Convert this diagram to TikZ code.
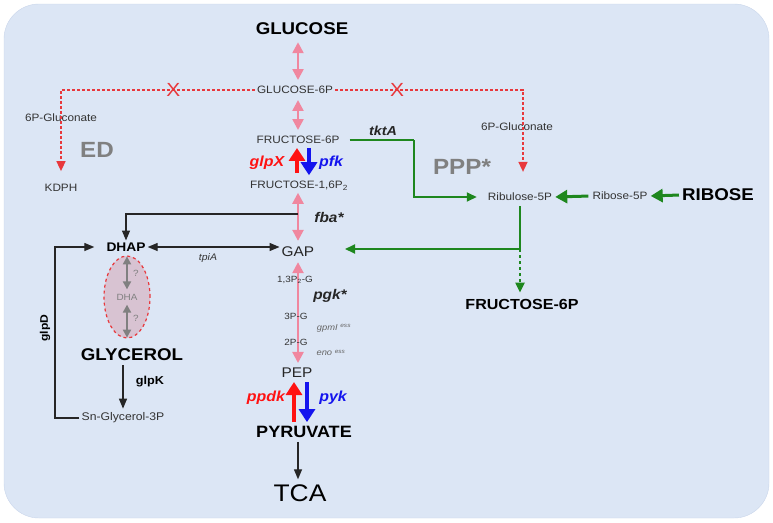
\documentclass[tikz,border=0pt]{standalone}
\usepackage{fontspec}
\setmainfont{Liberation Sans}[FakeStretch=1.1]
\usetikzlibrary{arrows.meta,shapes.geometric}

\definecolor{panel}{HTML}{DCE6F5}
\definecolor{panelrim}{HTML}{C9D5EA}
\definecolor{flux}{HTML}{F0879F}
\definecolor{blocked}{HTML}{E8383C}
\definecolor{gluconeo}{HTML}{FF1212}
\definecolor{glyco}{HTML}{1414EE}
\definecolor{pppgreen}{HTML}{1E871E}
\definecolor{label}{HTML}{333333}
\definecolor{faded}{HTML}{808080}
\definecolor{dhafill}{HTML}{D8C3D2}

\begin{document}
\begin{tikzpicture}[x=1pt,y=-1pt,
    met/.style={font=\fontsize{10.7}{12}\selectfont, text=label, inner sep=2pt},
    key/.style={font=\bfseries\fontsize{17}{20}\selectfont, inner sep=2pt},
    mid/.style={font=\fontsize{14}{16}\selectfont, text=black!85, inner sep=2pt},
    gene/.style={font=\bfseries\itshape\fontsize{14.5}{16}\selectfont, inner sep=1pt},
    small/.style={font=\fontsize{9}{10}\selectfont, text=label, inner sep=1pt},
    region/.style={font=\bfseries\fontsize{22}{24}\selectfont, text=faded},
    xmark/.style={font=\fontsize{19}{19}\selectfont, text=blocked, inner sep=0pt},
    twoway/.style={draw=flux, line width=2.4pt, {Triangle[width=11pt,length=11pt]}-{Triangle[width=11pt,length=11pt]}},
    cut/.style={draw=blocked, line width=1.6pt, dash pattern=on 3pt off 2pt, -{Triangle[width=9pt,length=10pt]}},
    fat/.style={line width=4pt, -{Triangle[width=16pt,length=13pt]}},
    pppline/.style={draw=pppgreen, line width=2pt, -{Triangle[width=9pt,length=10pt]}},
    pppfat/.style={draw=pppgreen, line width=3pt, -{Triangle[width=13pt,length=12pt]}},
    blk/.style={draw=black!85, line width=1.3pt, -{Triangle[width=8pt,length=10pt]}},
    grayarr/.style={draw=faded, line width=2pt, {Triangle[width=8pt,length=8pt]}-{Triangle[width=8pt,length=8pt]}}
]
    % panel
    \useasboundingbox (0,0) rectangle (773,522);
    \draw[fill=panel, draw=panelrim, rounded corners=35pt] (4,4) rectangle (769,518);

    % main pathway
    \coordinate (axis) at (298,0);
    \node[key] (glc) at (302,29) {GLUCOSE};
    \node[met] (g6p) at (295,90) {GLUCOSE-6P};
    \node[met] (f6p) at (298,140) {FRUCTOSE-6P};
    \node[met] (fbp) at (299,186) {FRUCTOSE-1,6P\textsubscript{2}};
    \node[mid] (gap) at (298,252) {GAP};
    \node[mid] (pep) at (297,373) {PEP};
    \node[key, font=\bfseries\fontsize{16.4}{18}\selectfont] (pyr) at (304,432) {PYRUVATE};
    \node[font=\fontsize{24}{26}\selectfont, inner sep=2pt] (tca) at (300,493) {TCA};

    \draw[twoway, shorten <=5pt, shorten >=4pt] (glc.south -| axis) -- (g6p.north -| axis);
    \draw[twoway, shorten <=4pt, shorten >=4pt] (g6p.south -| axis) -- (f6p.north -| axis);
    \draw[twoway, shorten <=0pt, shorten >=4pt] (fbp.south -| axis) -- (gap.north -| axis);
    \draw[twoway, shorten <=3pt, shorten >=3pt] (gap.south -| axis) -- (pep.north -| axis);
    \draw[blk, shorten <=2pt, shorten >=3pt] (pyr.south -| axis) -- (tca.north -| axis);

    % glpX / pfk
    \draw[fat, draw=gluconeo, shorten <=6pt, shorten >=2pt] ([xshift=-1pt]fbp.north -| axis) -- ([xshift=-1pt]f6p.south -| axis);
    \draw[fat, draw=glyco, shorten <=2pt, shorten >=4pt] ([xshift=11pt]f6p.south -| axis) -- ([xshift=11pt]fbp.north -| axis);
    \node[gene, text=gluconeo] (glpx) at (267,163) {glpX};
    \node[gene, text=glyco] (pfk) at (331,163) {pfk};

    % ppdk / pyk
    \draw[fat, draw=gluconeo, shorten <=2pt, shorten >=2pt] ([xshift=-4pt]pyr.north -| axis) -- ([xshift=-4pt]pep.south -| axis);
    \draw[fat, draw=glyco, shorten <=2pt, shorten >=2pt] ([xshift=9pt]pep.south -| axis) -- ([xshift=9pt]pyr.north -| axis);
    \node[gene, text=gluconeo] (ppdk) at (266,398) {ppdk};
    \node[gene, text=glyco] (pyk) at (333,398) {pyk};

    % lower glycolysis labels
    \node[small] (bpg) at (295,280) {1,3P\textsubscript{2}-G};
    \node[small] (pg3) at (296,316) {3P-G};
    \node[small] (pg2) at (296,342) {2P-G};
    \node[gene, font=\bfseries\itshape\fontsize{14}{16}\selectfont, text=black!85] (pgk) at (330,296) {pgk*};
    \node[font=\itshape\fontsize{8.5}{10}\selectfont, text=black!60] (gpm) at (334,328) {gpmI \textsuperscript{ess}};
    \node[font=\itshape\fontsize{8.5}{10}\selectfont, text=black!60] (eno) at (331,353) {eno \textsuperscript{ess}};
    \node[gene, font=\bfseries\itshape\fontsize{14}{16}\selectfont, text=black!85] (fba) at (329,217) {fba*};

    % ED branch
    \node[met] (glnA) at (61,118) {6P-Gluconate};
    \node[met] (kdph) at (61,188) {KDPH};
    \node[region] (ed) at (97,150) {ED};
    \draw[cut, shorten >=11pt] (g6p.west) -| node[xmark, pos=0.21] (xa) {X} (kdph.north);

    % PPP branch
    \node[met] (ru5p) at (520,197) {Ribulose-5P};
    \node[met] (r5p) at (620,196) {Ribose-5P};
    \node[key] (rib) at (718,195) {RIBOSE};
    \node[met] (glnB) at (517,127) {6P-Gluconate};
    \node[region] (ppp) at (462,167) {PPP*};
    \node[key, font=\bfseries\fontsize{14.6}{16}\selectfont] (f6pb) at (522,304) {FRUCTOSE-6P};
    \coordinate (rubin) at (523,0);
    \draw[cut, shorten >=19pt] (g6p.east) -| node[xmark, pos=0.165] (xb) {X} (ru5p.north -| rubin);

    \coordinate (tk) at (414,140);
    \coordinate (rj) at (520,249);
    \coordinate (gapin) at (345,249);
    \draw[pppline, -, shorten <=8pt] (f6p.east) -- (tk);
    \draw[pppline, shorten >=9pt] (tk) |- (ru5p.west);
    \node[gene, font=\bfseries\itshape\fontsize{13}{15}\selectfont, text=black!85] (tkta) at (383,131) {tktA};
    \draw[pppfat, shorten <=1pt, shorten >=1pt] (rib.west) -- (r5p.east);
    \draw[pppfat, shorten <=2pt, shorten >=1pt] (r5p.west) -- (ru5p.east);
    \draw[pppline, -, shorten <=3pt] (ru5p.south) -- (rj);
    \draw[pppline] (rj) -- (gapin);
    \draw[pppline, dashed, shorten >=4pt] (rj) -- (f6pb.north -| rj);

    % glycerol branch
    \node[font=\bfseries\fontsize{12.5}{14}\selectfont, inner sep=2pt] (dhap) at (126,247) {DHAP};
    \node[ellipse, draw=blocked, dashed, line width=1.2pt, fill=dhafill, minimum width=46pt, minimum height=82pt] (dhacell) at (127,297) {};
    \node[font=\fontsize{9}{10}\selectfont, text=faded] (dha) at (127,297) {DHA};
    \node[font=\fontsize{9}{10}\selectfont, text=faded] (qa) at (136,273) {?};
    \node[font=\fontsize{9}{10}\selectfont, text=faded] (qb) at (136,318) {?};
    \draw[grayarr, shorten <=1pt, shorten >=1pt] (dhacell.north) -- (dha.north);
    \draw[grayarr, shorten <=1pt, shorten >=1pt] (dha.south) -- (dhacell.south);
    \node[key] (gly) at (132,355) {GLYCEROL};
    \node[met, font=\fontsize{11.1}{13}\selectfont] (s3p) at (123,418) {Sn-Glycerol-3P};
    \node[font=\bfseries\fontsize{11.5}{13}\selectfont] (glpk) at (150,382) {glpK};
    \node[font=\bfseries\fontsize{11}{13}\selectfont, rotate=90] (glpd) at (45,328) {glpD};
    \node[font=\itshape\fontsize{9.5}{11}\selectfont, text=label] (tpia) at (208,258) {tpiA};

    \coordinate (fb) at (298,214);
    \coordinate (gd) at (55,418);
    \draw[blk, shorten <=2pt, shorten >=2pt] (gly.south -| s3p.north) -- (s3p.north);
    \draw[blk] (fb) -| (dhap.north);
    \draw[blk, {Triangle[width=8pt,length=10pt]}-{Triangle[width=8pt,length=10pt]}] (dhap.east) -- (dhap.east -| gap.west);
    \draw[blk, shorten >=10pt] (s3p.west) -- (gd) |- (dhap.west);
\end{tikzpicture}
\end{document}
